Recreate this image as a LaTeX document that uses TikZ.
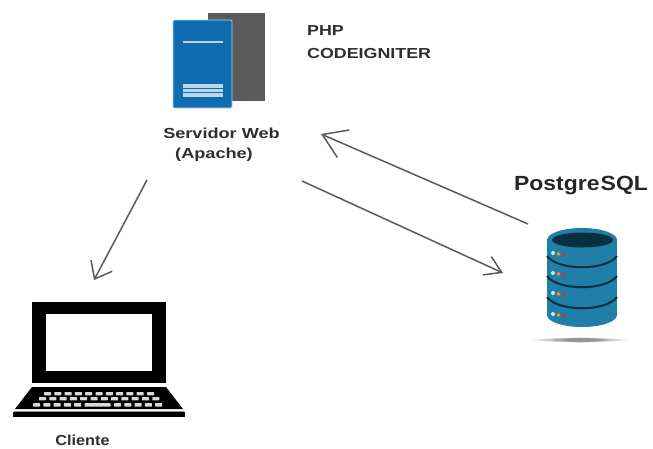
\documentclass[tikz,border=0pt]{standalone}
\usepackage{fontspec}
\setmainfont{Liberation Sans}
\usetikzlibrary{arrows.meta}
\definecolor{srvblue}{HTML}{0F6CB0}
\definecolor{srvgray}{HTML}{5A5A5A}
\definecolor{srvline}{HTML}{BBD6EA}
\definecolor{dbblue}{HTML}{1F7FA8}
\definecolor{dbdark}{HTML}{062F40}
\definecolor{txtdark}{HTML}{2E2E2E}
\newcommand{\wtxt}[2]{\scalebox{#1}[1]{#2}}
\tikzset{
  label text/.style={font=\bfseries\fontsize{14.5}{16}\selectfont,text=txtdark,inner sep=0pt},
  flow/.style={draw=black!65,line width=1.5pt},
  keycap/.style={fill=black!15,draw=none,rounded corners=0.5pt},
  dbband/.style={draw=dbdark,line width=2pt}
}
\begin{document}
\begin{tikzpicture}[x=1pt,y=-1pt]
\useasboundingbox (0,0) rectangle (653,448);
% web server icon
\fill[srvgray] (208,13) rectangle (265,101);
\fill[srvblue,draw=srvline,line width=0.8pt,rounded corners=1pt] (173,20) rectangle (232,108);
\draw[srvline,line width=2.2pt] (183,42) -- (223,42);
\fill[srvline] (183,84) rectangle (223,97);
\draw[srvblue,line width=0.7pt] (183,88) -- (223,88) (183,92.5) -- (223,92.5);
\node[label text] (srv) at (221.5,133) {\wtxt{1.25}{Servidor Web}};
\node[label text] (srv2) at (214,155) {\wtxt{1.25}{(Apache)}};
\node[label text,anchor=west] (php) at (307,31) {\wtxt{1.23}{PHP}};
\node[label text,anchor=west] (ci) at (307,54) {\wtxt{1.23}{CODEIGNITER}};
% database icon
\node[inner sep=0pt,font=\bfseries\fontsize{20.5}{22}\selectfont,text=black!85] (pg) at (581,186) {\wtxt{1.12}{Postgre\kern1pt SQL}};
\foreach \a/\b/\o in {532/628/0.10,540/620/0.12,550/610/0.14,560/604/0.14}{
  \fill[black,opacity=\o] (\a,340) .. controls (\a+20,337) and (\b-20,337) .. (\b,340) .. controls (\b-20,343) and (\a+20,343) .. (\a,340) -- cycle;
}
\fill[dbblue] (547,240) rectangle (617,315);
\fill[dbblue] (582,240) ellipse[x radius=35,y radius=12];
\fill[dbblue] (582,315) ellipse[x radius=35,y radius=12];
\fill[dbdark] (582.5,240) ellipse[x radius=30.5,y radius=7.5];
\draw[dbband] (547,256) .. controls (558,271) and (606,271) .. (617,256);
\draw[dbband] (547,276) .. controls (558,291) and (606,291) .. (617,276);
\draw[dbband] (547,297) .. controls (558,312) and (606,312) .. (617,297);
\foreach \y in {253,273,293,314}{
  \fill[white!80!dbblue] (553,\y) circle[radius=2];
  \fill[orange!80!yellow] (558.5,\y+1) circle[radius=1.8];
  \fill[red!70!orange] (563.5,\y+2) circle[radius=1.8];
}
% laptop icon
\fill[black] (32,302) rectangle (166,383);
\fill[white] (46,314) rectangle (152,371);
\fill[black] (32,387) -- (166,387) -- (183,409) -- (15,409) -- cycle;
\fill[black] (13,412) rectangle (185,417);
\draw[black!45,line width=0.6pt] (14,411) -- (184,411);
\foreach \i in {0,...,10}{
  \fill[keycap] (44+\i*10.3,392) rectangle ++(7,3.4);
}
\foreach \i in {0,...,11}{
  \fill[keycap] (39+\i*10.3,397) rectangle ++(7,3.4);
}
\foreach \i in {0,...,4}{
  \fill[keycap] (33+\i*10.3,403) rectangle ++(7,3.6);
}
\fill[keycap] (84.5,403) rectangle ++(26,3.6);
\foreach \i in {0,...,4}{
  \fill[keycap] (114+\i*10.3,403) rectangle ++(7,3.6);
}
\node[label text] (cli) at (82.5,440) {\wtxt{1.12}{Cliente}};
% connectors
\coordinate (a1s) at (147,180); \coordinate (a1e) at (94,280);
\coordinate (a2s) at (528,224); \coordinate (a2e) at (321,134);
\coordinate (a3s) at (302,181); \coordinate (a3e) at (503,273);
\draw[flow,-{Straight Barb[length=15pt,width=24pt,line width=1.5pt]}] (a1s) -- (a1e);
\draw[flow,-{Straight Barb[length=23pt,width=30pt,line width=1.5pt]}] (a2s) -- (a2e);
\draw[flow,-{Straight Barb[length=16pt,width=20pt,line width=1.5pt]}] (a3s) -- (a3e);
\end{tikzpicture}
\end{document}
